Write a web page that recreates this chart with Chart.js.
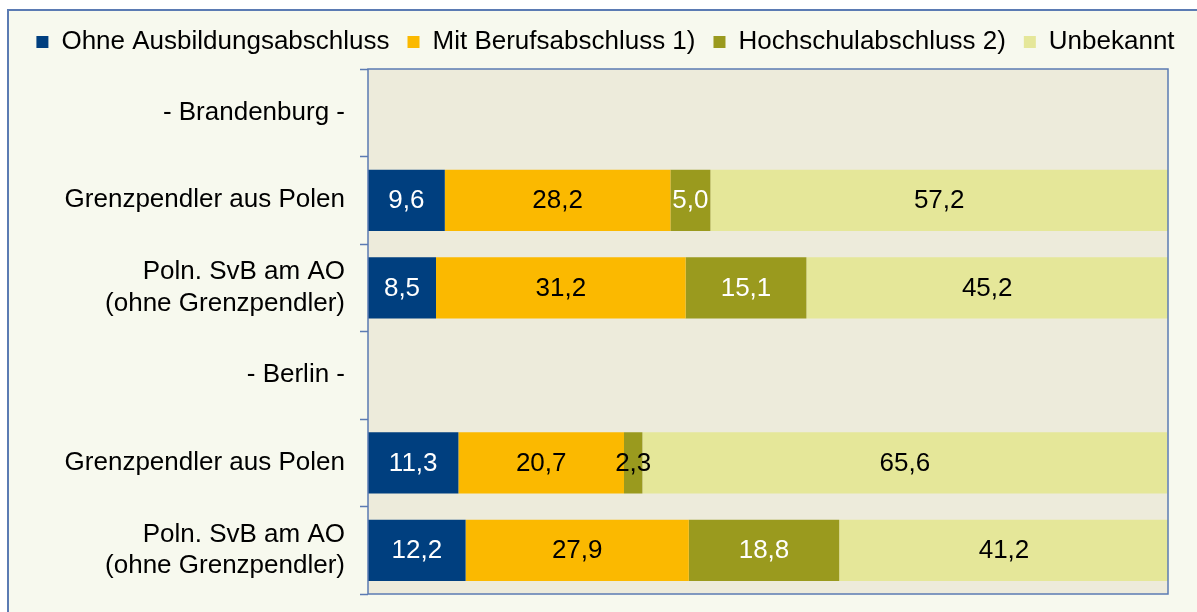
<!DOCTYPE html>
<html>
<head>
<meta charset="utf-8">
<script src="https://cdn.jsdelivr.net/npm/chart.js@4"></script>
<style>
    html, body { margin: 0; padding: 0; background: #ffffff; overflow: hidden; }
    #box { width: 1197px; height: 612px; }
</style>
</head>
<body>
<div id="box"><canvas id="myChart"></canvas></div>
<script>
// categorie (asse y)
let categorie = [
    "- Brandenburg -",
    "Grenzpendler aus Polen",
    ["Poln. SvB am AO", "(ohne Grenzpendler)"],
    "- Berlin -",
    "Grenzpendler aus Polen",
    ["Poln. SvB am AO", "(ohne Grenzpendler)"]
];

// valori in % per serie
let ohneAusbildung = [null, 9.6, 8.5, null, 11.3, 12.2],
    mitBeruf = [null, 28.2, 31.2, null, 20.7, 27.9],
    hochschule = [null, 5.0, 15.1, null, 2.3, 18.8],
    unbekannt = [null, 57.2, 45.2, null, 65.6, 41.2];

let nomiSerie = ["Ohne Ausbildungsabschluss", "Mit Berufsabschluss 1)", "Hochschulabschluss 2)", "Unbekannt"],
    colori = ["#003f7f", "#fbb900", "#9a9a1e", "#e5e799"],
    coloriTesto = ["#ffffff", "#000000", "#ffffff", "#000000"];

let FONT = "'Liberation Sans', Arial, sans-serif",
    fontSize = 26;

//sfondo e cornice
let sfondoPlugin = {
    id: "sfondo",
    beforeDraw: function (chart) {
        let ctx = chart.ctx, a = chart.chartArea;
        ctx.save();
        ctx.fillStyle = "#ffffff";
        ctx.fillRect(0, 0, chart.width, chart.height);
        ctx.fillStyle = "#f7f9ee";
        ctx.fillRect(8, 10, chart.width, chart.height);
        ctx.strokeStyle = "#5b7bb3";
        ctx.lineWidth = 2;
        ctx.strokeRect(8, 10, chart.width + 10, chart.height + 10);
        ctx.fillStyle = "#edebdb";
        ctx.fillRect(a.left, a.top, a.right - a.left, a.bottom - a.top);
        ctx.restore();
    },
    afterDraw: function (chart) {
        let ctx = chart.ctx, a = chart.chartArea;
        ctx.save();
        ctx.strokeStyle = "#5b7bb3";
        ctx.lineWidth = 1.5;
        ctx.strokeRect(a.left, a.top, a.right - a.left, a.bottom - a.top);
        ctx.restore();
    }
};

//etichette dei valori dentro le barre
let etichettePlugin = {
    id: "etichette",
    afterDatasetsDraw: function (chart) {
        let ctx = chart.ctx;
        ctx.save();
        ctx.font = fontSize + "px " + FONT;
        ctx.textAlign = "center";
        ctx.textBaseline = "middle";
        chart.data.datasets.forEach(function (ds, i) {
            let meta = chart.getDatasetMeta(i);
            meta.data.forEach(function (bar, j) {
                let v = ds.data[j];
                if (v == null) return;
                let testo = v.toFixed(1).replace(".", ","),
                    larghezza = Math.abs(bar.x - bar.base);
                ctx.fillStyle = ctx.measureText(testo).width > larghezza ? "#000000" : coloriTesto[i];
                ctx.fillText(testo, (bar.x + bar.base) / 2, bar.y + 1);
            });
        });
        ctx.restore();
    }
};

let serie = [ohneAusbildung, mitBeruf, hochschule, unbekannt];
let datasets = serie.map(function (d, i) {
    return {
        label: nomiSerie[i],
        data: d,
        backgroundColor: colori[i],
        borderWidth: 0,
        categoryPercentage: 1,
        barPercentage: 0.7
    };
});

let _myChart = new Chart(document.getElementById("myChart"), {
    type: "bar",
    data: { labels: categorie, datasets: datasets },
    plugins: [sfondoPlugin, etichettePlugin],
    options: {
        indexAxis: "y",
        responsive: true,
        maintainAspectRatio: false,
        animation: false,
        layout: { padding: { top: 11, right: 0, bottom: 18, left: 14 } },
        plugins: {
            legend: {
                position: "top",
                labels: {
                    boxWidth: 12,
                    boxHeight: 12,
                    padding: 18,
                    color: "#000000",
                    font: { family: FONT, size: fontSize }
                }
            },
            tooltip: { enabled: false }
        },
        scales: {
            x: {
                stacked: true,
                min: 0,
                max: 100,
                position: "top",
                grid: { display: false },
                border: { display: false },
                ticks: { display: false },
                afterFit: function (scale) {
                    scale.height = 4;
                }
            },
            y: {
                stacked: true,
                offset: true,
                afterFit: function (scale) {
                    scale.width = 368 - 14;
                    scale.paddingTop = 0;
                    scale.paddingBottom = 0;
                },
                grid: {
                    offset: true,
                    drawOnChartArea: false,
                    tickLength: 8,
                    tickWidth: 1.5,
                    color: "#5b7bb3"
                },
                border: { display: false },
                ticks: {
                    color: "#000000",
                    padding: 15,
                    crossAlign: "near",
                    font: { family: FONT, size: fontSize, lineHeight: 1.2 }
                }
            },
            // margine destro
            y2: {
                type: "category",
                position: "right",
                grid: { display: false },
                border: { display: false },
                ticks: { display: false },
                afterFit: function (scale) {
                    scale.width = 29;
                }
            }
        }
    }
});
</script>
</body>
</html>
